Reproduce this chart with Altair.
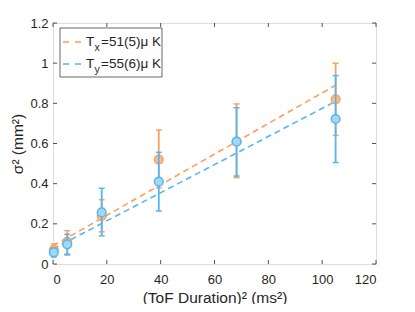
import altair as alt
import pandas as pd

# ---- data ----
x_vals = [0.3, 5.3, 18.1, 39.3, 68.2, 105.0]
sx_vals = [0.07, 0.11, 0.24, 0.52, 0.61, 0.82]
sx_lo = [0.04, 0.05, 0.16, 0.38, 0.43, 0.64]
sx_hi = [0.10, 0.166, 0.32, 0.667, 0.797, 1.0]
sy_vals = [0.058, 0.098, 0.257, 0.41, 0.609, 0.722]
sy_lo = [0.035, 0.045, 0.14, 0.264, 0.438, 0.505]
sy_hi = [0.08, 0.148, 0.377, 0.556, 0.778, 0.938]

fit_x = [0, 105]
fitx_y = [0.09, 0.89]
fity_y = [0.075, 0.81]

x_ticks = [0, 20, 40, 60, 80, 100, 120]
y_ticks = [0, 0.2, 0.4, 0.6, 0.8, 1.0, 1.2]

legend_main = ["T", "T"]
legend_sub = ["x", "y"]
legend_rest = ["=51(5)\u03bc K", "=55(6)\u03bc K"]

ORANGE = "#FF9F5E"
ORANGE_FILL = "#FFBC8F"
BLUE = "#55B7EF"
BLUE_FILL = "#A3D8F7"
AXC = "#262626"
FONT = "Liberation Sans"

W, H = 323, 241

pts = pd.DataFrame({
    "x": x_vals * 2,
    "y": sx_vals + sy_vals,
    "lo": sx_lo + sy_lo,
    "hi": sx_hi + sy_hi,
    "s": ["x"] * 6 + ["y"] * 6,
})
fits = pd.DataFrame({
    "x": fit_x * 2,
    "y": fitx_y + fity_y,
    "s": ["x"] * 2 + ["y"] * 2,
})

xs = alt.Scale(domain=[0, 120], nice=False, zero=False)
ys = alt.Scale(domain=[0, 1.2], nice=False, zero=False)

xaxis = alt.Axis(values=x_ticks, title="(ToF Duration)\u00b2 (ms\u00b2)", grid=False,
                 domain=False, ticks=False, tickSize=0, labelPadding=9,
                 labelFontSize=13, labelFont=FONT, labelColor=AXC,
                 titleFont=FONT, titleFontSize=15.5, titleFontWeight="normal",
                 titleColor=AXC, titlePadding=4)
yaxis = alt.Axis(values=y_ticks, format="~g", title="\u03c3\u00b2 (mm\u00b2)", grid=False,
                 domain=False, ticks=False, tickSize=0, labelPadding=5,
                 labelFontSize=13, labelFont=FONT, labelColor=AXC,
                 titleFont=FONT, titleFontSize=15.5, titleFontWeight="normal",
                 titleColor=AXC, titlePadding=4)

color_line = alt.Scale(domain=["x", "y"], range=[ORANGE, BLUE])
color_fill = alt.Scale(domain=["x", "y"], range=[ORANGE_FILL, BLUE_FILL])

base_axes = alt.Chart(pts).mark_point(opacity=0).encode(
    x=alt.X("x:Q", scale=xs, axis=xaxis),
    y=alt.Y("y:Q", scale=ys, axis=yaxis),
)

fit_layers = []
for s in ["x", "y"]:
    fit_layers.append(
        alt.Chart(fits[fits.s == s]).mark_line(strokeDash=[6, 4], strokeWidth=1.6).encode(
            x=alt.X("x:Q", scale=xs),
            y=alt.Y("y:Q", scale=ys),
            color=alt.Color("s:N", scale=color_line, legend=None),
        )
    )

point_layers = []
for s in ["x", "y"]:
    d = pts[pts.s == s]
    bars = alt.Chart(d).mark_rule(strokeWidth=1.8, opacity=1).encode(
        x=alt.X("x:Q", scale=xs),
        y=alt.Y("lo:Q", scale=ys),
        y2="hi:Q",
        color=alt.Color("s:N", scale=color_line, legend=None),
    )
    cap_lo = alt.Chart(d).mark_tick(orient="horizontal", size=6, thickness=1.5, opacity=1).encode(
        x=alt.X("x:Q", scale=xs),
        y=alt.Y("lo:Q", scale=ys),
        color=alt.Color("s:N", scale=color_line, legend=None),
    )
    cap_hi = alt.Chart(d).mark_tick(orient="horizontal", size=6, thickness=1.5, opacity=1).encode(
        x=alt.X("x:Q", scale=xs),
        y=alt.Y("hi:Q", scale=ys),
        color=alt.Color("s:N", scale=color_line, legend=None),
    )
    dots = alt.Chart(d).mark_point(shape="circle", filled=False, size=75, strokeWidth=1.5, opacity=1).encode(
        x=alt.X("x:Q", scale=xs),
        y=alt.Y("y:Q", scale=ys),
        stroke=alt.Stroke("s:N", scale=color_line, legend=None),
        fill=alt.Fill("s:N", scale=color_fill, legend=None),
    )
    point_layers += [bars, cap_lo, cap_hi, dots]

# inward ticks on all four sides
xt = pd.DataFrame({"v": x_ticks})
yt = pd.DataFrame({"v": y_ticks})
tick_layers = [
    alt.Chart(xt).mark_rule(color=AXC, strokeWidth=0.8).encode(
        x=alt.X("v:Q", scale=xs), y=alt.value(H), y2=alt.value(H - 4)),
    alt.Chart(xt).mark_rule(color=AXC, strokeWidth=0.8).encode(
        x=alt.X("v:Q", scale=xs), y=alt.value(0), y2=alt.value(4)),
    alt.Chart(yt).mark_rule(color=AXC, strokeWidth=0.8).encode(
        y=alt.Y("v:Q", scale=ys), x=alt.value(0), x2=alt.value(4)),
    alt.Chart(yt).mark_rule(color=AXC, strokeWidth=0.8).encode(
        y=alt.Y("v:Q", scale=ys), x=alt.value(W), x2=alt.value(W - 4)),
]

# legend box
one = alt.Data(values=[{"a": 1}])
leg_box = alt.Chart(one).mark_rect(fill="white", stroke=AXC, strokeWidth=0.7).encode(
    x=alt.value(7), x2=alt.value(109), y=alt.value(5), y2=alt.value(54))

leg_df = pd.DataFrame({
    "main": legend_main, "sub": legend_sub, "rest": legend_rest,
    "s": ["x", "y"], "row": [0, 1],
})
leg_layers = [leg_box]
for i, s in enumerate(["x", "y"]):
    yy = 19 + 22 * i
    r = leg_df[leg_df.row == i]
    leg_layers.append(
        alt.Chart(r).mark_rule(strokeDash=[6, 6], strokeWidth=1.6).encode(
            x=alt.value(10), x2=alt.value(28), y=alt.value(yy),
            color=alt.Color("s:N", scale=color_line, legend=None)))
    leg_layers.append(
        alt.Chart(r).mark_text(align="left", baseline="middle", font=FONT, fontSize=13.5, color=AXC).encode(
            x=alt.value(33), y=alt.value(yy), text="main:N"))
    leg_layers.append(
        alt.Chart(r).mark_text(align="left", baseline="middle", font=FONT, fontSize=10.5, color=AXC).encode(
            x=alt.value(41.5), y=alt.value(yy + 6), text="sub:N"))
    leg_layers.append(
        alt.Chart(r).mark_text(align="left", baseline="middle", font=FONT, fontSize=13.5, color=AXC).encode(
            x=alt.value(48), y=alt.value(yy), text="rest:N"))

chart = alt.layer(
    base_axes, *fit_layers, *point_layers, *tick_layers, *leg_layers
).properties(
    width=W, height=H,
    autosize=alt.AutoSizeParams(type="none"),
    padding={"left": 45, "top": 15, "right": 31, "bottom": 40},
).configure_view(
    stroke=AXC, strokeWidth=1
).configure(background="white")

chart.save("out.html", embed_options={"renderer": "svg", "actions": False})
